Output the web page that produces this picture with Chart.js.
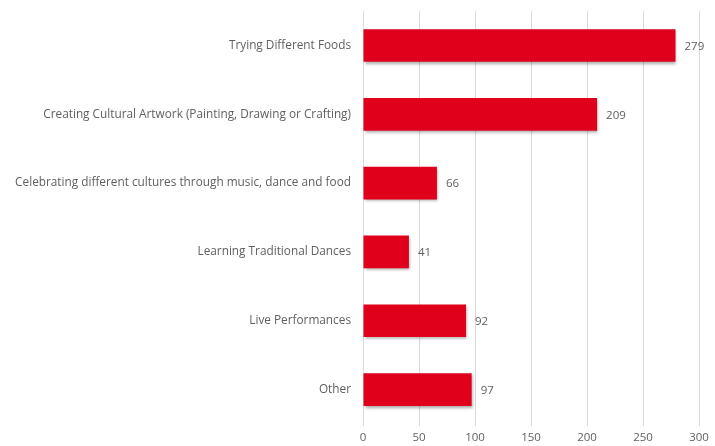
<!DOCTYPE html>
<html>
<head>
<meta charset="utf-8">
<script src="https://cdn.jsdelivr.net/npm/chart.js@4"></script>
<style>
  html, body { margin: 0; padding: 0; background: #ffffff; }
  #wrap { width: 715px; height: 446px; position: relative; }
</style>
</head>
<body>
<div id="wrap"><canvas id="chart" width="715" height="446"></canvas></div>
<script>
// Activity preferences (number of responses)
const categories = [
  "Trying Different Foods",
  "Creating Cultural Artwork (Painting, Drawing or Crafting)",
  "Celebrating different cultures through music, dance and food",
  "Learning Traditional Dances",
  "Live Performances",
  "Other"
];
const responses = [279, 209, 66, 41, 92, 97];
const xTicks = [0, 50, 100, 150, 200, 250, 300];

const FONT = "'Open Sans', 'Liberation Sans', sans-serif";
const TEXT_GRAY = "#5f5f5f";

// Soft drop shadow under the bars
const barShadow = {
  id: "barShadow",
  beforeDatasetDraw(chart) {
    const ctx = chart.ctx;
    ctx.save();
    ctx.shadowColor = "rgba(0,0,0,0.35)";
    ctx.shadowBlur = 3;
    ctx.shadowOffsetX = 1;
    ctx.shadowOffsetY = 2;
  },
  afterDatasetDraw(chart) {
    chart.ctx.restore();
  }
};

// Value label to the right of each bar
const valueLabels = {
  id: "valueLabels",
  afterDatasetsDraw(chart) {
    const ctx = chart.ctx;
    const meta = chart.getDatasetMeta(0);
    ctx.save();
    ctx.font = "11.5px " + FONT;
    ctx.fillStyle = TEXT_GRAY;
    ctx.textAlign = "left";
    ctx.textBaseline = "middle";
    meta.data.forEach((bar, i) => {
      ctx.fillText(String(chart.data.datasets[0].data[i]), bar.x + 9, bar.y + 1);
    });
    ctx.restore();
  }
};

new Chart(document.getElementById("chart"), {
  type: "bar",
  data: {
    labels: categories,
    datasets: [{
      data: responses,
      backgroundColor: "#E0001B",
      borderWidth: 0,
      barPercentage: 0.475,
      categoryPercentage: 1.0
    }]
  },
  options: {
    indexAxis: "y",
    responsive: false,
    animation: false,
    layout: { padding: { top: 7, right: 16, left: 0, bottom: 0 } },
    plugins: {
      legend: { display: false },
      tooltip: { enabled: false }
    },
    scales: {
      x: {
        min: 0,
        max: 300,
        afterBuildTicks(scale) {
          scale.ticks = xTicks.map(v => ({ value: v }));
        },
        afterFit(scale) { scale.height = 22; },
        grid: {
          color: "#d9d9d9",
          lineWidth: 1,
          drawTicks: true,
          tickLength: 2
        },
        border: { display: false },
        ticks: {
          color: TEXT_GRAY,
          font: { family: FONT, size: 11.5 },
          padding: 5
        }
      },
      y: {
        afterFit(scale) { scale.width = 363; },
        grid: { display: false },
        border: { display: false },
        ticks: {
          color: TEXT_GRAY,
          font: { family: FONT, size: 11.8 },
          padding: 4
        }
      }
    }
  },
  plugins: [barShadow, valueLabels]
});
</script>
</body>
</html>
